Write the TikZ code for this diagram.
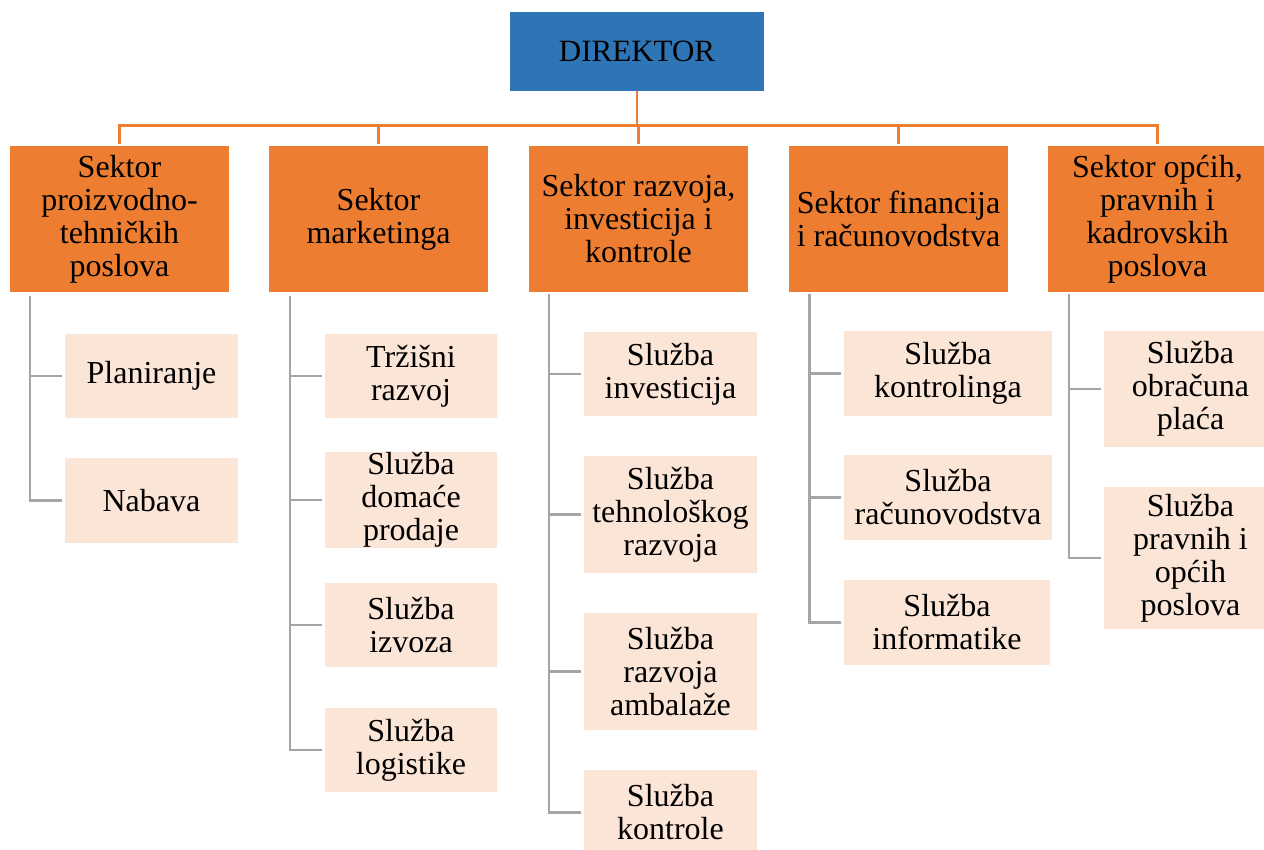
\documentclass[tikz,border=0pt]{standalone}
\usepackage{fontspec}
\setmainfont{Liberation Serif}
\definecolor{dirblue}{HTML}{2E75B6}
\definecolor{secorange}{HTML}{ED7D31}
\definecolor{sublight}{HTML}{FBE5D6}
\definecolor{linegray}{HTML}{A5A5A5}
\begin{document}
\begin{tikzpicture}[x=1pt,y=-1pt,
  txt/.style={font=\fontsize{32}{33}\selectfont, align=center, inner sep=0pt, text=black},
  dirbox/.style={txt, fill=dirblue, minimum width=254pt, minimum height=79pt, font=\fontsize{31}{33}\selectfont},
  secbox/.style={txt, fill=secorange, minimum width=219pt, minimum height=146pt},
  subbox/.style={txt, fill=sublight, minimum width=173pt},
  orangeline/.style={draw=secorange, line width=2.5pt},
  grayline/.style={draw=linegray, line width=2.5pt}
]
\useasboundingbox (0,0) rectangle (1264,850);
\clip (0,0) rectangle (1264,850);
\fill[white] (0,0) rectangle (1264,850);

% director
\node[dirbox] (dir) at (637,51.5) {DIREKTOR};

% sectors
\node[secbox] (s1) at (119.5,219) {Sektor\\proizvodno-\\tehničkih\\poslova};
\node[secbox] (s2) at (378.5,219) {Sektor\\marketinga};
\node[secbox] (s3) at (638.5,219) {Sektor razvoja,\\investicija i\\kontrole};
\node[secbox] (s4) at (898.5,219) {Sektor financija\\i računovodstva};
\node[secbox] (s5) at (1157.5,219) {Sektor općih,\\pravnih i\\kadrovskih\\poslova};

% bus
\coordinate (bus) at (637,125.5);
\foreach \s in {s1,s2,s3,s4,s5}{
  \draw[orangeline, shorten >=2pt] (dir.south) -- (dir.south |- bus) -| (\s.north);
}

% column 1
\node[subbox, minimum height=84pt] (p1) at (151.5,376) {Planiranje};
\node[subbox, minimum height=85pt] (p2) at (151.5,500.5) {Nabava};
% column 2
\node[subbox, minimum width=172pt, minimum height=84pt] (m1) at (411,376) {Tržišni\\razvoj};
\node[subbox, minimum width=172pt, minimum height=84pt] (m2) at (411,500) {Služba\\domaće\\prodaje};
\node[subbox, minimum width=172pt, minimum height=84pt] (m3) at (411,625) {Služba\\izvoza};
\node[subbox, minimum width=172pt, minimum height=84pt] (m4) at (411,750) {Služba\\logistike};
% column 3
\node[subbox, minimum height=84pt] (r1) at (670.5,374) {Služba\\investicija};
\node[subbox, minimum height=117pt] (r2) at (670.5,514.5) {Služba\\tehnološkog\\razvoja};
\node[subbox, minimum height=117pt] (r3) at (670.5,671.5) {Služba\\razvoja\\ambalaže};
\node[subbox, minimum height=85pt] (r4) at (670.5,812.5) {Služba\\kontrole};
% column 4
\node[subbox, minimum width=208pt, minimum height=85pt] (f1) at (948,373.5) {Služba\\kontrolinga};
\node[subbox, minimum width=208pt, minimum height=85pt] (f2) at (948,497.5) {Služba\\računovodstva};
\node[subbox, minimum width=206pt, minimum height=85pt] (f3) at (947,622.5) {Služba\\informatike};
% column 5
\node[subbox, minimum height=116pt] (o1) at (1190.5,389) {Služba\\obračuna\\plaća};
\node[subbox, minimum height=142pt] (o2) at (1190.5,558) {Služba\\pravnih i\\općih\\poslova};

% gray connectors
\coordinate (t1) at (30,296);
\coordinate (t2) at (290,296);
\coordinate (t3) at (549,294);
\coordinate (t4) at (809.5,294);
\coordinate (t5) at (1069,294);
\foreach \t/\c in {t1/p1,t1/p2,t2/m1,t2/m2,t2/m3,t2/m4,t3/r1,t3/r2,t3/r3,t3/r4,t4/f1,t4/f2,t4/f3,t5/o1,t5/o2}{
  \draw[grayline, shorten >=3pt] (\t) |- (\c.west);
}
\end{tikzpicture}
\end{document}
